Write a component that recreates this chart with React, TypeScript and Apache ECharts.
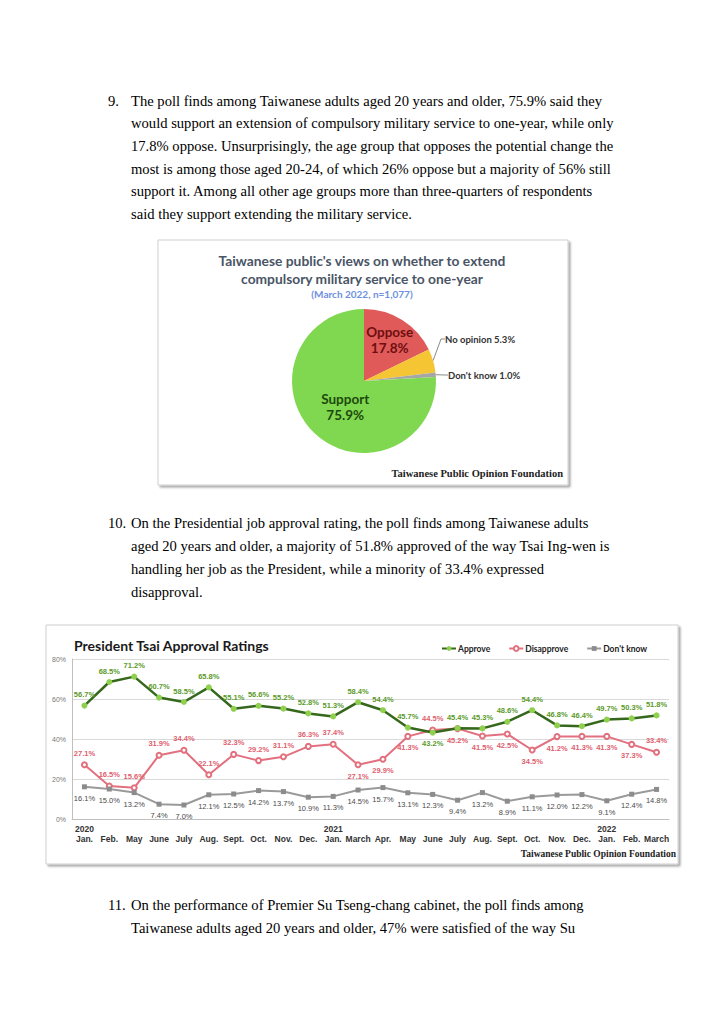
import React, { useEffect, useRef } from "react";
import * as echarts from "echarts";

// ---------- page text ----------
const para9Number = "9.";
const para9 = [
  "The poll finds among Taiwanese adults aged 20 years and older, 75.9% said they",
  "would support an extension of compulsory military service to one-year, while only",
  "17.8% oppose. Unsurprisingly, the age group that opposes the potential change the",
  "most is among those aged 20-24, of which 26% oppose but a majority of 56% still",
  "support it. Among all other age groups more than three-quarters of respondents",
  "said they support extending the military service.",
];
const para10Number = "10.";
const para10 = [
  "On the Presidential job approval rating, the poll finds among Taiwanese adults",
  "aged 20 years and older, a majority of 51.8% approved of the way Tsai Ing-wen is",
  "handling her job as the President, while a minority of 33.4% expressed",
  "disapproval.",
];
const para11Number = "11.";
const para11 = [
  "On the performance of Premier Su Tseng-chang cabinet, the poll finds among",
  "Taiwanese adults aged 20 years and older, 47% were satisfied of the way Su",
];

// ---------- pie chart data ----------
const pieTitle = [
  "Taiwanese public's views on whether to extend",
  "compulsory military service to one-year",
];
const pieSubtitle = "(March 2022, n=1,077)";
const pieNames = ["Oppose", "No opinion", "Don't know", "Support"];
const pieValues = [17.8, 5.3, 1.0, 75.9];
const sourceText = "Taiwanese Public Opinion Foundation";

// ---------- line chart data ----------
const lineTitle = "President Tsai Approval Ratings";
const months = [
  "Jan.", "Feb.", "May", "June", "July", "Aug.", "Sept.", "Oct.", "Nov.", "Dec.",
  "Jan.", "March", "Apr.", "May", "June", "July", "Aug.", "Sept.", "Oct.", "Nov.", "Dec.",
  "Jan.", "Feb.", "March",
];
const years = [
  "2020", "", "", "", "", "", "", "", "", "",
  "2021", "", "", "", "", "", "", "", "", "", "",
  "2022", "", "",
];
const seriesNames = ["Approve", "Disapprove", "Don't know"];
const approve = [
  56.7, 68.5, 71.2, 60.7, 58.5, 65.8, 55.1, 56.6, 55.2, 52.8,
  51.3, 58.4, 54.4, 45.7, 43.2, 45.4, 45.3, 48.6, 54.4, 46.8, 46.4,
  49.7, 50.3, 51.8,
];
const disapprove = [
  27.1, 16.5, 15.6, 31.9, 34.4, 22.1, 32.3, 29.2, 31.1, 36.3,
  37.4, 27.1, 29.9, 41.3, 44.5, 45.2, 41.5, 42.5, 34.5, 41.2, 41.3,
  41.3, 37.3, 33.4,
];
const dontKnow = [
  16.1, 15.0, 13.2, 7.4, 7.0, 12.1, 12.5, 14.2, 13.7, 10.9,
  11.3, 14.5, 15.7, 13.1, 12.3, 9.4, 13.2, 8.9, 11.1, 12.0, 12.2,
  9.1, 12.4, 14.8,
];
const yMin = 0;
const yMax = 80;
const yStep = 20;

// label placement (indices whose value label sits below the point)
const approveBelow = [14];
const disapproveBelow = [11, 12, 13, 15, 16, 17, 18, 19, 20, 21, 22];

const SERIF = "'Liberation Serif', 'Times New Roman', serif";
const SANS = "'Liberation Sans', Arial, sans-serif";
const CAL = "Lato, 'Open Sans', sans-serif";

const pct = (v: number) => v.toFixed(1) + "%";

function paragraph(num: string, lines: string[], y0: number, step: number) {
  const els: any[] = [
    {
      type: "text",
      x: 108,
      y: y0,
      style: { text: num, fontSize: 14.6, fontFamily: SERIF, fill: "#000", verticalAlign: "middle" },
    },
  ];
  lines.forEach((t, i) => {
    els.push({
      type: "text",
      x: 131,
      y: y0 + i * step,
      style: { text: t, fontSize: 14.6, fontFamily: SERIF, fill: "#000", verticalAlign: "middle" },
    });
  });
  return els;
}

function lineData(values: number[], below: number[]) {
  return values.map((v, i) => ({
    value: v,
    label: { position: below.includes(i) ? "bottom" : "top" },
  }));
}

export default function App() {
  const ref = useRef<HTMLDivElement>(null);

  useEffect(() => {
    if (!ref.current) return;
    const chart = echarts.init(ref.current, undefined, { renderer: "svg" });

    const pieColors = ["#e05a5a", "#f5c533", "#a6a6a6", "#80d850"];
    const pieLabelColors = ["#6e0f0f", "#333", "#333", "#1d4a0c"];

    const boxStyle = {
      fill: "#fff",
      stroke: "#cfcfcf",
      lineWidth: 1,
      shadowBlur: 2,
      shadowOffsetX: 2,
      shadowOffsetY: 2,
      shadowColor: "rgba(0,0,0,0.35)",
    };

    const graphicEls: any[] = [
      { type: "rect", z: 0, shape: { x: 158, y: 240, width: 410, height: 245 }, style: boxStyle },
      { type: "rect", z: 0, shape: { x: 46, y: 625, width: 632, height: 239 }, style: boxStyle },
      ...paragraph(para9Number, para9, 100.5, 22.7),
      ...paragraph(para10Number, para10, 523, 23),
      ...paragraph(para11Number, para11, 904.5, 23),
      ...pieTitle.map((t, i) => ({
        type: "text",
        x: 362,
        y: 260 + i * 18,
        z: 5,
        style: {
          text: t,
          fontSize: 13.8,
          fontWeight: "bold",
          fontFamily: CAL,
          fill: "#4a5566",
          align: "center",
          verticalAlign: "middle",
        },
      })),
      {
        type: "text",
        x: 362,
        y: 294,
        z: 5,
        style: {
          text: pieSubtitle,
          fontSize: 10,
          fontWeight: "bold",
          fontFamily: CAL,
          fill: "#6f8fe0",
          align: "center",
          verticalAlign: "middle",
        },
      },
      {
        type: "text",
        x: 563,
        y: 473,
        z: 5,
        style: {
          text: sourceText,
          fontSize: 10.5,
          fontWeight: "bold",
          fontFamily: SERIF,
          fill: "#222",
          align: "right",
          verticalAlign: "middle",
        },
      },
      {
        type: "text",
        x: 74,
        y: 645,
        z: 5,
        style: {
          text: lineTitle,
          fontSize: 14,
          fontWeight: "bold",
          fontFamily: CAL,
          fill: "#1a1a1a",
          verticalAlign: "middle",
        },
      },
      {
        type: "text",
        x: 676,
        y: 854,
        z: 5,
        style: {
          text: sourceText,
          fontSize: 9.5,
          fontWeight: "bold",
          fontFamily: SERIF,
          fill: "#222",
          align: "right",
          verticalAlign: "middle",
        },
      },
    ];

    const labelFont = { fontSize: 7.5, fontWeight: "bold", fontFamily: SANS };

    chart.setOption({
      animation: false,
      backgroundColor: "#fff",
      graphic: { elements: graphicEls },
      legend: {
        data: seriesNames,
        left: 436,
        top: 639,
        itemWidth: 14,
        itemHeight: 6,
        itemGap: 18,
        textStyle: {
          fontSize: 8.5,
          fontWeight: "bold",
          fontFamily: CAL,
          color: "#222",
          padding: [0, 0, 0, -3],
        },
      },
      grid: {
        left: 72,
        right: 55,
        top: 659,
        bottom: 205,
        show: true,
        borderColor: "#d9d9d9",
        borderWidth: 1,
      },
      xAxis: {
        type: "category",
        data: months,
        boundaryGap: true,
        axisLine: { lineStyle: { color: "#bfbfbf" } },
        axisTick: { show: false },
        axisLabel: {
          interval: 0,
          margin: 5,
          fontSize: 8.5,
          lineHeight: 10,
          fontWeight: "bold",
          fontFamily: SANS,
          color: "#333",
          formatter: (v: string, i: number) => years[i] + "\n" + v,
        },
      },
      yAxis: {
        type: "value",
        min: yMin,
        max: yMax,
        interval: yStep,
        axisLine: { show: true, lineStyle: { color: "#bfbfbf" } },
        axisTick: { show: false },
        splitLine: { lineStyle: { color: "#d9d9d9" } },
        axisLabel: {
          formatter: "{value}%",
          fontSize: 7,
          fontFamily: SANS,
          color: "#777",
          margin: 6,
        },
      },
      series: [
        {
          type: "pie",
          center: [364, 381],
          radius: 72,
          startAngle: 90,
          clockwise: true,
          silent: true,
          data: pieNames.map((n, i) => {
            const inside = n === "Oppose" || n === "Support";
            return {
              name: n,
              value: pieValues[i],
              itemStyle: { color: pieColors[i] },
              label: inside
                ? {
                    position: "inner",
                    formatter: (p: any) => p.name + "\n" + pct(p.value),
                    fontSize: 13.5,
                    lineHeight: 16,
                    fontWeight: "bold",
                    fontFamily: CAL,
                    color: pieLabelColors[i],
                  }
                : {
                    position: "outside",
                    formatter: (p: any) => p.name + " " + pct(p.value),
                    fontSize: 9.5,
                    fontWeight: "bold",
                    fontFamily: CAL,
                    color: "#333",
                  },
              labelLine: inside
                ? { show: false }
                : { show: true, length: 8, length2: 4, lineStyle: { color: "#8a8a8a", width: 1 } },
            };
          }),
          labelLayout: (p: any) => {
            const n = pieNames[p.dataIndex];
            if (n === "Oppose") return { dx: 5, dy: -8 };
            if (n === "Support") return { dx: 8, dy: -2 };
            if (n === "No opinion") return { x: 445, y: 339, align: "left", verticalAlign: "middle" };
            if (n === "Don't know") return { x: 448, y: 375, align: "left", verticalAlign: "middle" };
            return {};
          },
        },
        {
          name: seriesNames[0],
          type: "line",
          data: lineData(approve, approveBelow),
          symbol: "circle",
          symbolSize: 6,
          z: 4,
          lineStyle: { color: "#35681c", width: 2.5 },
          itemStyle: { color: "#8fd14f" },
          label: {
            show: true,
            formatter: (p: any) => pct(p.value),
            color: "#5a9a2a",
            distance: 4,
            ...labelFont,
          },
        },
        {
          name: seriesNames[1],
          type: "line",
          data: lineData(disapprove, disapproveBelow),
          symbol: "emptyCircle",
          symbolSize: 5,
          z: 3,
          lineStyle: { color: "#e2707e", width: 2 },
          itemStyle: { color: "#e2707e", borderWidth: 1 },
          label: {
            show: true,
            formatter: (p: any) => pct(p.value),
            color: "#e0606e",
            distance: 4,
            ...labelFont,
          },
        },
        {
          name: seriesNames[2],
          type: "line",
          data: lineData(dontKnow, dontKnow.map((_, i) => i)),
          symbol: "rect",
          symbolSize: 5,
          z: 3,
          lineStyle: { color: "#9a9a9a", width: 2 },
          itemStyle: { color: "#8c8c8c" },
          label: {
            show: true,
            formatter: (p: any) => pct(p.value),
            color: "#4a4a4a",
            distance: 5,
            fontSize: 7.5,
            fontFamily: SANS,
          },
        },
      ],
    });

    return () => chart.dispose();
  }, []);

  return (
    <div
      style={{
        position: "absolute",
        left: 0,
        top: 0,
        width: 724,
        height: 1024,
        background: "#fff",
      }}
    >
      <div ref={ref} style={{ width: 724, height: 1024 }} />
    </div>
  );
}
